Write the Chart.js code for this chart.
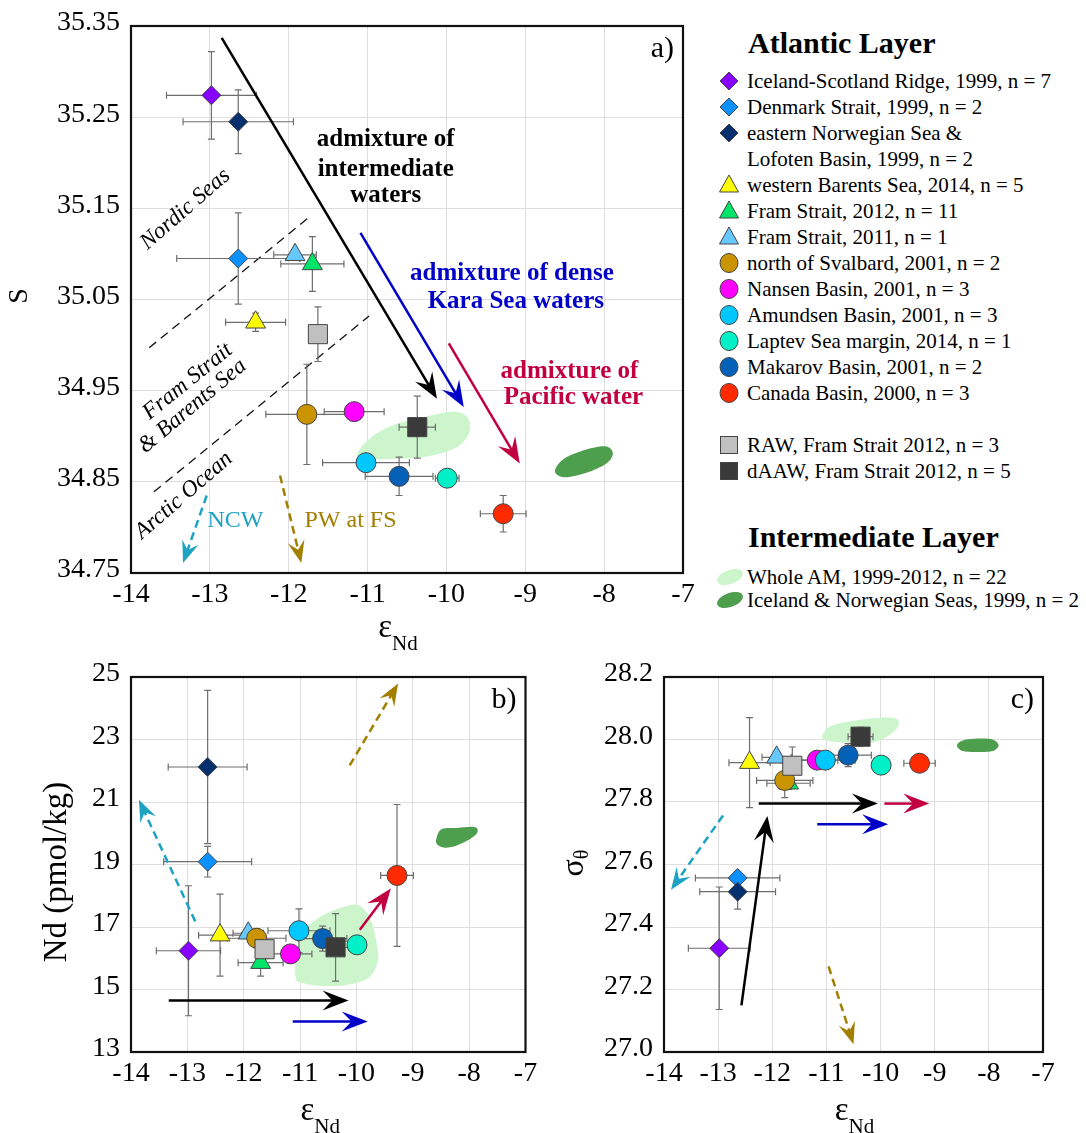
<!DOCTYPE html>
<html>
<head>
<meta charset="utf-8">
<script src="https://cdn.jsdelivr.net/npm/chart.js@4.4.0/dist/chart.umd.min.js"></script>
<style>
body{margin:0;background:#fff;font-family:"Liberation Serif","Times New Roman",serif;}
#wrap{position:relative;width:1086px;height:1133px;overflow:hidden;}
canvas{position:absolute;}
.lt{position:absolute;font-size:21px;line-height:26px;color:#000;white-space:nowrap;}
.lh{position:absolute;font-size:30px;font-weight:bold;line-height:34px;white-space:nowrap;}
.lm{position:absolute;}
</style>
</head>
<body>
<div id="wrap">
  <canvas id="ca" width="700" height="670" style="left:0;top:0"></canvas>
  <canvas id="cb" width="540" height="493" style="left:0;top:640px"></canvas>
  <canvas id="cc" width="546" height="493" style="left:540px;top:640px"></canvas>
  <div id="legend"></div>
</div>
<script>
// series (Atlantic layer)
var names  = ["Iceland-Scotland Ridge, 1999, n = 7","Denmark Strait, 1999, n = 2","eastern Norwegian Sea &|Lofoten Basin, 1999, n = 2",
              "western Barents Sea, 2014, n = 5","Fram Strait, 2012, n = 11","Fram Strait, 2011, n = 1","north of Svalbard, 2001, n = 2",
              "Nansen Basin, 2001, n = 3","Amundsen Basin, 2001, n = 3","Laptev Sea margin, 2014, n = 1","Makarov Basin, 2001, n = 2",
              "Canada Basin, 2000, n = 3","RAW, Fram Strait 2012, n = 3","dAAW, Fram Strait 2012, n = 5"]
var colors = ["#8800ff","#0a90ff","#07306e","#ffff00","#00e468","#66c8ff","#c99400","#ff00ff","#00c8ff","#00f0c8","#0560b8","#ff2a00","#c0c0c0","#3a3a3a"]
var shapes = ["rectRot","rectRot","rectRot","triangle","triangle","triangle","circle","circle","circle","circle","circle","circle","rect","rect"]

var eps    = [-12.98,-12.64,-12.64,-12.42,-11.70,-11.92,-11.77,-11.17,-11.02,-9.99,-10.60,-9.28,-11.63,-10.37]
var epsErr = [0.57,0.78,0.70,0.38,0.40,0.27,0.52,0.38,0.55,0.15,0.43,0.29,0.08,0.23]
var sal    = [35.274,35.095,35.245,35.025,35.089,35.099,34.924,34.927,34.871,34.854,34.856,34.815,35.012,34.910]
var salErr = [0.048,0.05,0.035,0.01,0.03,0.005,0.055,0.004,0.004,0.004,0.021,0.02,0.03,0.034]
var nd     = [16.24,19.09,22.12,16.74,15.86,16.80,16.64,16.14,16.88,16.43,16.63,18.65,16.29,16.35]
var ndErr  = [2.08,0.49,2.45,1.31,0.43,0.1,0.3,0.2,0.7,0.1,0.4,2.27,0.3,1.08]
var sig    = [27.332,27.557,27.513,27.926,27.86,27.943,27.869,27.934,27.934,27.918,27.950,27.924,27.916,28.009]
var sigErr = [0.196,0.02,0.056,0.144,0.02,0.01,0.055,0.01,0.01,0.01,0.037,0.01,0.06,0.03]

// intermediate layer fields (outline in data units)
var blobNames  = ["Whole AM, 1999-2012, n = 22","Iceland & Norwegian Seas, 1999, n = 2"]
var blobColors = ["#ccf5cc","#4d9e4d"]
var amS  = [[-11.135,34.880],[-10.965,34.898],[-10.68,34.912],[-10.285,34.921],[-9.89,34.927],[-9.72,34.919],[-9.72,34.902],[-9.89,34.887],[-10.23,34.878],[-10.68,34.875],[-11.05,34.876]]
var insS = [[-8.615,34.865],[-8.50,34.876],[-8.245,34.885],[-7.99,34.889],[-7.89,34.882],[-7.96,34.871],[-8.19,34.861],[-8.47,34.855],[-8.60,34.858]]
var amNd = [[-11.08,15.40],[-11.07,16.04],[-10.96,16.79],[-10.65,17.32],[-10.23,17.64],[-9.95,17.69],[-9.74,17.21],[-9.63,16.36],[-9.63,15.83],[-9.80,15.35],[-10.23,15.13],[-10.71,15.13],[-11.02,15.24]]
var insNd= [[-8.58,19.83],[-8.49,20.13],[-8.22,20.17],[-7.91,20.20],[-7.85,20.04],[-7.97,19.83],[-8.22,19.61],[-8.43,19.54],[-8.57,19.65]]
var amSig= [[-11.08,28.008],[-10.95,28.040],[-10.63,28.056],[-10.18,28.067],[-9.79,28.070],[-9.66,28.056],[-9.76,28.024],[-10.11,27.992],[-10.56,27.989],[-10.95,27.995]]
var insSig=[[-8.59,27.981],[-8.48,27.997],[-8.19,28.003],[-7.93,28.000],[-7.82,27.981],[-7.93,27.963],[-8.19,27.960],[-8.48,27.963]]

var xTicks  = [-14,-13,-12,-11,-10,-9,-8,-7]
var sTicks  = [34.75,34.85,34.95,35.05,35.15,35.25,35.35]
var ndTicks = [13,15,17,19,21,23,25]
var sgTicks = [27.0,27.2,27.4,27.6,27.8,28.0,28.2]

var SERIF = '"Liberation Serif","Times New Roman",serif'
var BLACK="#000", BLUE="#0000c8", RED="#c2003f", CYAN="#1ca3c4", GOLD="#a37f00"
var radius = {rectRot:9.5, triangle:11.5, circle:10, rect:13.5}

function arrow(ctx,x1,y1,x2,y2,color,dashed){
  var a=Math.atan2(y2-y1,x2-x1), hl=dashed?22:26, hw=dashed?17:20
  ctx.save()
  ctx.strokeStyle=color; ctx.fillStyle=color; ctx.lineWidth=2.5
  ctx.setLineDash(dashed?[8,5]:[])
  ctx.beginPath(); ctx.moveTo(x1,y1); ctx.lineTo(x2-Math.cos(a)*hl*0.6,y2-Math.sin(a)*hl*0.6); ctx.stroke()
  ctx.setLineDash([])
  ctx.translate(x2,y2); ctx.rotate(a)
  ctx.beginPath(); ctx.moveTo(0,0); ctx.lineTo(-hl,-hw/2); ctx.lineTo(-hl*0.62,0); ctx.lineTo(-hl,hw/2); ctx.closePath(); ctx.fill()
  ctx.restore()
}

// closed catmull-rom through the outline points
function blob(ctx,pts,color){
  var n=pts.length
  ctx.save(); ctx.fillStyle=color; ctx.beginPath()
  ctx.moveTo(pts[0][0],pts[0][1])
  for(var i=0;i<n;i++){
    var p0=pts[(i-1+n)%n], p1=pts[i], p2=pts[(i+1)%n], p3=pts[(i+2)%n]
    ctx.bezierCurveTo(p1[0]+(p2[0]-p0[0])/6,p1[1]+(p2[1]-p0[1])/6, p2[0]-(p3[0]-p1[0])/6,p2[1]-(p3[1]-p1[1])/6, p2[0],p2[1])
  }
  ctx.closePath(); ctx.fill(); ctx.restore()
}

function makeChart(id,W,H,area,yv,ye,yTicks,yFmt,deco){
  var datasets=names.map(function(n,i){
    return {label:n, data:[{x:eps[i],y:yv[i]}], pointStyle:shapes[i], pointRadius:radius[shapes[i]], pointHoverRadius:radius[shapes[i]],
            backgroundColor:colors[i], borderColor:"#444", borderWidth:1, order:(i===5?-3.5:-i)}
  })
  var plug={
    id:"deco"+id,
    beforeDatasetsDraw:function(chart){
      var ctx=chart.ctx, xs=chart.scales.x, ys=chart.scales.y
      deco.blobs.forEach(function(b){
        blob(ctx,b[0].map(function(p){return [xs.getPixelForValue(p[0]),ys.getPixelForValue(p[1])]}),b[1])
      })
      ;(deco.lines||[]).forEach(function(l){
        ctx.save(); ctx.strokeStyle="#111"; ctx.lineWidth=1.3; ctx.setLineDash([9,6])
        ctx.beginPath(); ctx.moveTo(xs.getPixelForValue(l[0]),ys.getPixelForValue(l[1]))
        ctx.lineTo(xs.getPixelForValue(l[2]),ys.getPixelForValue(l[3])); ctx.stroke(); ctx.restore()
      })
      ctx.save(); ctx.strokeStyle="#6e6e6e"; ctx.lineWidth=1.2
      for(var i=0;i<eps.length;i++){
        var px=xs.getPixelForValue(eps[i]), py=ys.getPixelForValue(yv[i])
        var xl=xs.getPixelForValue(eps[i]-epsErr[i]), xr=xs.getPixelForValue(eps[i]+epsErr[i])
        var yt=ys.getPixelForValue(yv[i]+ye[i]), yb=ys.getPixelForValue(yv[i]-ye[i])
        ctx.beginPath()
        ctx.moveTo(xl,py); ctx.lineTo(xr,py); ctx.moveTo(xl,py-3.5); ctx.lineTo(xl,py+3.5); ctx.moveTo(xr,py-3.5); ctx.lineTo(xr,py+3.5)
        ctx.moveTo(px,yt); ctx.lineTo(px,yb); ctx.moveTo(px-3.5,yt); ctx.lineTo(px+3.5,yt); ctx.moveTo(px-3.5,yb); ctx.lineTo(px+3.5,yb)
        ctx.stroke()
      }
      ctx.restore()
    },
    afterDatasetsDraw:function(chart){
      var ctx=chart.ctx, xs=chart.scales.x, ys=chart.scales.y
      deco.arrows.forEach(function(a){
        arrow(ctx,xs.getPixelForValue(a[0]),ys.getPixelForValue(a[1]),xs.getPixelForValue(a[2]),ys.getPixelForValue(a[3]),a[4],a[5])
      })
      ;(deco.texts||[]).forEach(function(t){
        ctx.save(); ctx.fillStyle=t.c; ctx.font=t.f+" "+SERIF; ctx.textAlign=t.al||"center"; ctx.textBaseline="middle"
        ctx.translate(xs.getPixelForValue(t.x),ys.getPixelForValue(t.y)); if(t.r) ctx.rotate(t.r*Math.PI/180)
        ctx.fillText(t.s,0,0); ctx.restore()
      })
    },
    afterDraw:function(chart){
      var ctx=chart.ctx, ca=chart.chartArea
      ctx.save()
      ctx.strokeStyle="#111"; ctx.lineWidth=2.2
      ctx.strokeRect(ca.left,ca.top,ca.right-ca.left,ca.bottom-ca.top)
      ctx.fillStyle="#000"; ctx.textBaseline="middle"; ctx.textAlign="right"
      ctx.font="30px "+SERIF
      ctx.fillText(deco.panel,ca.right-9,ca.top+23)
      // x title: epsilon Nd
      ctx.textBaseline="alphabetic"; ctx.textAlign="left"
      ctx.font="33px "+SERIF; var w1=ctx.measureText("\u03b5").width
      ctx.font="21px "+SERIF; var w2=ctx.measureText("Nd").width
      var cx=(ca.left+ca.right)/2+deco.xtDx, x0=cx-(w1+w2)/2, by=ca.bottom+deco.xtDy
      ctx.font="33px "+SERIF; ctx.fillText("\u03b5",x0,by)
      ctx.font="21px "+SERIF; ctx.fillText("Nd",x0+w1,by+13)
      // y title
      ctx.translate(deco.yt[0],deco.yt[1]); ctx.rotate(-Math.PI/2)
      if(deco.ytSub){
        ctx.font=deco.ytFont+" "+SERIF; var v1=ctx.measureText(deco.ytext).width
        ctx.font="20px "+SERIF; var v2=ctx.measureText(deco.ytSub).width
        var s0=-(v1+v2)/2
        ctx.textBaseline="middle"
        ctx.font=deco.ytFont+" "+SERIF; ctx.fillText(deco.ytext,s0,0)
        ctx.font="20px "+SERIF; ctx.fillText(deco.ytSub,s0+v1,8)
      } else {
        ctx.textAlign="center"; ctx.textBaseline="middle"; ctx.font=deco.ytFont+" "+SERIF
        ctx.fillText(deco.ytext,0,0)
      }
      ctx.restore()
    }
  }
  var tickFont={family:SERIF,size:28}
  return new Chart(document.getElementById(id),{
    type:"scatter",
    data:{datasets:datasets},
    plugins:[plug],
    options:{
      responsive:false, animation:false, devicePixelRatio:1,
      events:[],
      layout:{padding:{left:0,top:area.t,right:W-area.r,bottom:0}},
      plugins:{legend:{display:false},tooltip:{enabled:false}},
      scales:{
        x:{type:"linear",min:-14,max:-7,
           afterBuildTicks:function(s){s.ticks=xTicks.map(function(v){return {value:v}})},
           afterFit:function(s){s.height=H-area.b; s.paddingLeft=0; s.paddingRight=0},
           grid:{color:"#dedede",lineWidth:1,drawTicks:false},border:{display:false},
           ticks:{font:tickFont,color:"#000",padding:5,maxRotation:0,autoSkip:false,callback:function(v){return String(v)}}},
        y:{type:"linear",min:yTicks[0],max:yTicks[yTicks.length-1],
           afterBuildTicks:function(s){s.ticks=yTicks.map(function(v){return {value:v}})},
           afterFit:function(s){s.width=area.l; s.paddingTop=0; s.paddingBottom=0},
           grid:{color:"#dedede",lineWidth:1,drawTicks:false},border:{display:false},
           ticks:{font:tickFont,color:"#000",padding:11,labelOffset:-3,autoSkip:false,callback:function(v){return v.toFixed(yFmt)}}}
      }
    }
  })
}

var bold="bold 25px", ital="italic 23px", reg="24px"
makeChart("ca",700,670,{l:131,t:26,r:683,b:573},sal,salErr,sTicks,2,{
  panel:"a)", xtDx:-9, xtDy:64, yt:[20,296], ytext:"S", ytFont:"28px",
  blobs:[[amS,blobColors[0]],[insS,blobColors[1]]],
  lines:[[-13.77,34.997,-11.73,35.141],[-13.71,34.839,-10.98,35.032]],
  arrows:[[-12.85,35.337,-10.12,34.941,BLACK,false],[-11.09,35.123,-9.78,34.932,BLUE,false],[-9.97,35.002,-9.07,34.870,RED,false],
          [-13.04,34.835,-13.34,34.761,CYAN,true],[-12.11,34.857,-11.84,34.761,GOLD,true]],
  texts:[{x:-10.77,y:35.225,s:"admixture of",c:BLACK,f:bold},{x:-10.77,y:35.193,s:"intermediate",c:BLACK,f:bold},{x:-10.77,y:35.164,s:"waters",c:BLACK,f:bold},
         {x:-9.17,y:35.079,s:"admixture of dense",c:BLUE,f:bold},{x:-9.12,y:35.048,s:"Kara Sea waters",c:BLUE,f:bold},
         {x:-8.44,y:34.971,s:"admixture of",c:RED,f:bold},{x:-8.39,y:34.942,s:"Pacific water",c:RED,f:bold},
         {x:-13.03,y:34.807,s:"NCW",c:CYAN,f:reg,al:"left"},{x:-11.80,y:34.807,s:"PW at FS",c:GOLD,f:reg,al:"left"},
         {x:-13.31,y:35.149,s:"Nordic Seas",c:BLACK,f:ital,r:-41},{x:-13.28,y:34.960,s:"Fram Strait",c:BLACK,f:ital,r:-39},
         {x:-13.22,y:34.933,s:"& Barents Sea",c:BLACK,f:ital,r:-40},{x:-13.33,y:34.835,s:"Arctic Ocean",c:BLACK,f:ital,r:-41}]
})
makeChart("cb",540,493,{l:131,t:37,r:527,b:412},nd,ndErr,ndTicks,0,{
  panel:"b)", xtDx:-8, xtDy:68, yt:[57,232], ytext:"Nd (pmol/kg)", ytFont:"33px",
  blobs:[[amNd,blobColors[0]],[insNd,blobColors[1]]],
  arrows:[[-10.12,22.17,-9.26,24.79,GOLD,true],[-12.86,17.18,-13.86,21.07,CYAN,true],[-9.94,16.91,-9.39,18.23,RED,false],
          [-13.33,14.65,-10.14,14.65,BLACK,false],[-11.13,13.98,-9.80,13.98,BLUE,false]]
})
makeChart("cc",546,493,{l:124,t:37,r:503,b:412},sig,sigErr,sgTicks,1,{
  panel:"c)", xtDx:1, xtDy:68, yt:[35,223], ytext:"\u03c3", ytSub:"\u03b8", ytFont:"32px",
  blobs:[[amSig,blobColors[0]],[insSig,blobColors[1]]],
  arrows:[[-12.25,27.795,-10.05,27.795,BLACK,false],[-9.93,27.795,-9.10,27.795,RED,false],[-11.17,27.729,-9.86,27.729,BLUE,false],
          [-12.57,27.149,-12.09,27.755,BLACK,false],[-12.91,27.757,-13.87,27.519,CYAN,true],[-10.96,27.274,-10.50,27.025,GOLD,true]]
})

// legend
function markerSvg(shape,color){
  var s='<svg width="30" height="24" viewBox="-15 -12 30 24">'
  if(shape==="rectRot") s+='<polygon points="0,-9 9,0 0,9 -9,0" fill="'+color+'" stroke="#444" stroke-width="1"/>'
  else if(shape==="triangle") s+='<polygon points="0,-10 9.5,7 -9.5,7" fill="'+color+'" stroke="#444" stroke-width="1"/>'
  else if(shape==="circle") s+='<ellipse cx="0" cy="0" rx="9" ry="9.5" fill="'+color+'" stroke="#444" stroke-width="1"/>'
  else if(shape==="rect") s+='<rect x="-8.5" y="-8.5" width="17" height="17" fill="'+color+'" stroke="#444" stroke-width="1"/>'
  else s+='<ellipse cx="0" cy="0" rx="13.5" ry="7" transform="rotate(-20)" fill="'+color+'"/>'
  return s+'</svg>'
}
var html='<div class="lh" style="left:748px;top:26px">Atlantic Layer</div>'
var row=0
names.forEach(function(n,i){
  if(i===12) row+=1
  var y=81+26*row
  html+='<div class="lm" style="left:714px;top:'+(y-12)+'px">'+markerSvg(shapes[i],colors[i])+'</div>'
  html+='<div class="lt" style="left:747px;top:'+(y-13)+'px">'+n.split("|").join("<br>").replace(/&(?!lt|gt|amp)/g,"&amp;")+'</div>'
  row+= n.indexOf("|")>=0 ? 2 : 1
})
html+='<div class="lh" style="left:748px;top:520px">Intermediate Layer</div>'
blobNames.forEach(function(n,i){
  var y=577+23*i
  html+='<div class="lm" style="left:715px;top:'+(y-12)+'px">'+markerSvg("blob",blobColors[i])+'</div>'
  html+='<div class="lt" style="left:747px;top:'+(y-13)+'px">'+n.replace(/&/g,"&amp;")+'</div>'
})
document.getElementById("legend").innerHTML=html
</script>
</body>
</html>
